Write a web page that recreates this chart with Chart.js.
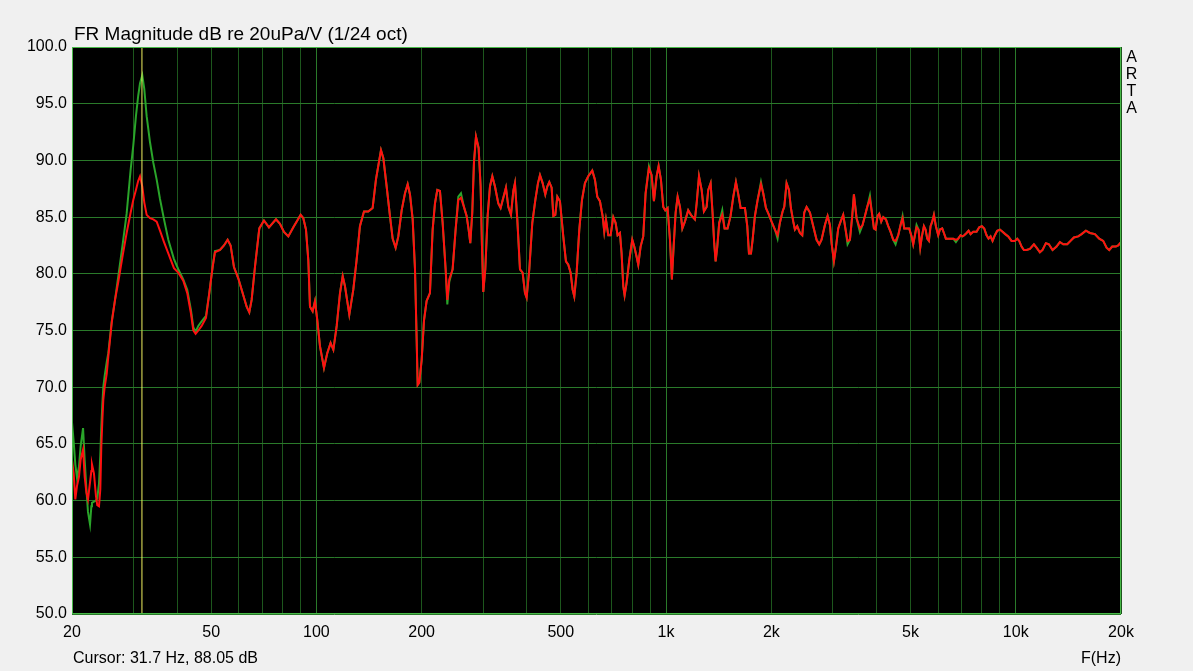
<!DOCTYPE html>
<html>
<head>
<meta charset="utf-8">
<title>FR Magnitude</title>
<script src="https://cdn.jsdelivr.net/npm/chart.js@4.4.1/dist/chart.umd.min.js"></script>
<style>
  body { margin: 0; background: #f0f0f0; }
  #wrap { position: relative; width: 1193px; height: 671px; font-family: "Liberation Sans", Arial, sans-serif; color: #000; }
  #mycanvas { position: absolute; left: 0; top: 0; }
  .lbl { position: absolute; white-space: nowrap; font-size: 16px; line-height: 16px; }
</style>
</head>
<body>
<div id="wrap">
  <canvas id="mycanvas" width="1193" height="671"></canvas>
  <div class="lbl" style="left:74px; top:24px; font-size:19px; line-height:19px;">FR Magnitude dB re 20uPa/V (1/24 oct)</div>
  <div class="lbl" style="left:1125px; top:48px; width:13px; text-align:center; line-height:17px;">A<br>R<br>T<br>A</div>
  <div class="lbl" style="left:73px; top:650px;">Cursor: 31.7 Hz, 88.05 dB</div>
  <div class="lbl" style="left:1081px; top:650px;">F(Hz)</div>
</div>
<script>
// frequency points (Hz), shared by both curves
var freqHz = [
  20.00, 20.22, 20.44, 20.67, 20.94, 21.17, 21.51, 21.74, 21.99, 22.22,
  22.52, 22.72, 22.81, 23.11, 23.42, 23.62, 23.89, 24.10, 24.26, 24.42,
  24.58, 24.80, 25.14, 25.40, 25.98, 26.55, 27.13, 27.92, 28.66, 29.43,
  29.94, 30.47, 30.93, 31.30, 31.77, 32.19, 32.70, 33.43, 34.16, 34.93,
  35.70, 36.66, 37.71, 39.14, 40.27, 41.61, 42.72, 43.78, 44.46, 45.14,
  45.94, 46.96, 48.33, 49.39, 50.49, 51.27, 52.98, 54.40, 55.73, 56.84,
  58.10, 59.78, 61.52, 63.17, 64.28, 65.28, 66.72, 68.66, 70.80, 73.17,
  76.63, 78.67, 80.77, 83.12, 85.90, 88.19, 90.15, 91.74, 93.37, 94.81,
  95.86, 97.56, 99.07, 100.6, 102.4, 105.1, 107.4, 109.8, 111.8, 114.3,
  116.8, 118.9, 120.7, 124.2, 127.5, 130.3, 133.2, 136.8, 140.7, 144.8,
  148.0, 153.0, 155.4, 158.8, 162.3, 165.2, 168.5, 171.5, 175.3, 179.2,
  182.4, 185.2, 188.5, 191.4, 193.5, 194.8, 196.9, 200.0, 203.1, 206.6,
  211.2, 215.0, 218.3, 221.7, 225.6, 229.6, 234.2, 236.8, 239.9, 245.2,
  250.1, 254.6, 259.1, 264.2, 268.9, 272.5, 275.5, 279.1, 282.2, 286.0,
  291.0, 294.9, 297.5, 300.1, 304.1, 308.8, 313.6, 318.5, 324.1, 331.3,
  336.4, 342.4, 348.4, 353.8, 360.1, 365.7, 369.7, 375.4, 382.1, 388.8,
  394.9, 399.2, 406.3, 414.4, 422.7, 430.2, 435.9, 443.6, 451.4, 457.4,
  463.5, 470.7, 475.9, 482.2, 488.6, 497.2, 508.2, 517.2, 525.2, 533.4,
  540.4, 546.4, 554.9, 564.7, 574.7, 586.1, 599.1, 615.1, 626.0, 635.7,
  646.9, 658.4, 665.6, 673.0, 683.4, 694.0, 706.3, 717.2, 726.7, 738.0,
  746.1, 754.4, 761.0, 771.1, 784.8, 800.4, 811.0, 823.6, 832.7, 845.6,
  860.5, 873.9, 893.3, 909.1, 923.2, 939.5, 952.0, 966.7, 981.7, 994.7,
  1010, 1026, 1039, 1051, 1065, 1079, 1096, 1113, 1132, 1157,
  1178, 1209, 1223, 1242, 1264, 1283, 1306, 1320, 1341, 1358,
  1373, 1386, 1401, 1419, 1448, 1470, 1499, 1529, 1557, 1584,
  1609, 1634, 1681, 1707, 1726, 1749, 1768, 1795, 1827, 1868,
  1896, 1930, 1969, 2003, 2048, 2084, 2116, 2154, 2178, 2211,
  2246, 2275, 2311, 2336, 2372, 2414, 2452, 2484, 2523, 2579,
  2636, 2694, 2742, 2784, 2846, 2897, 2942, 2974, 3020, 3060,
  3107, 3156, 3211, 3261, 3304, 3356, 3407, 3445, 3506, 3584,
  3647, 3704, 3761, 3828, 3878, 3930, 3973, 4026, 4070, 4124,
  4179, 4253, 4319, 4386, 4463, 4532, 4613, 4684, 4746, 4798,
  4873, 4959, 5036, 5091, 5148, 5204, 5273, 5332, 5390, 5462,
  5522, 5583, 5645, 5707, 5770, 5834, 5911, 6003, 6069, 6163,
  6231, 6313, 6411, 6510, 6626, 6743, 6847, 6953, 7046, 7123,
  7234, 7330, 7427, 7558, 7726, 7863, 8002, 8126, 8252, 8361,
  8472, 8584, 8717, 8852, 9009, 9169, 9331, 9517, 9728, 9944,
  10098, 10232, 10390, 10551, 10738, 10977, 11270, 11469, 11724, 11931,
  12196, 12439, 12743, 13083, 13374, 13671, 14036, 14347, 14665, 15090,
  15425, 15871, 16295, 16840, 17328, 17790, 18185, 18507, 18876, 19337,
  19637, 20000
];

// red curve, dB
var redDb = [
  63.6, 62.4, 60.1, 61.3, 62.1, 63.6, 64.5, 62.1, 60.7, 60.1,
  61.6, 62.6, 63.2, 62.4, 60.4, 59.6, 59.5, 61.0, 64.8, 67.0,
  68.9, 70.0, 71.2, 72.7, 75.7, 77.7, 79.3, 81.6, 83.6, 85.4,
  86.5, 87.4, 88.2, 88.6, 87.7, 86.3, 85.2, 84.9, 84.8, 84.6,
  83.8, 82.8, 81.8, 80.5, 80.1, 79.4, 78.3, 76.5, 75.0, 74.7,
  75.0, 75.4, 76.1, 78.3, 80.6, 81.9, 82.1, 82.5, 83.0, 82.5,
  80.6, 79.6, 78.3, 77.1, 76.6, 77.7, 80.6, 84.0, 84.7, 84.1,
  84.8, 84.4, 83.7, 83.3, 84.1, 84.7, 85.2, 84.9, 83.9, 81.2,
  77.1, 76.7, 77.6, 75.9, 73.6, 71.7, 73.0, 73.9, 73.3, 75.4,
  78.3, 79.8, 78.9, 76.4, 78.6, 81.2, 84.2, 85.5, 85.5, 85.8,
  88.3, 90.9, 90.2, 87.7, 85.1, 83.1, 82.3, 83.3, 85.6, 87.1,
  87.9, 87.0, 84.8, 80.4, 74.2, 70.2, 70.4, 72.4, 75.9, 77.6,
  78.3, 83.9, 86.2, 87.4, 87.3, 84.5, 80.4, 77.7, 79.5, 80.4,
  83.9, 86.5, 86.7, 85.9, 85.1, 83.9, 82.7, 85.4, 89.8, 92.1,
  91.1, 87.7, 82.4, 78.4, 80.4, 85.1, 87.7, 88.6, 87.7, 86.2,
  85.8, 86.7, 87.6, 85.9, 85.2, 87.3, 88.0, 84.8, 80.4, 80.1,
  78.3, 77.9, 80.4, 84.5, 86.5, 88.0, 88.7, 88.0, 87.0, 87.7,
  88.1, 87.6, 85.1, 85.2, 86.8, 86.4, 83.3, 81.1, 80.8, 80.1,
  78.6, 78.0, 80.1, 83.9, 86.5, 88.0, 88.6, 89.1, 88.3, 86.8,
  86.4, 85.1, 83.7, 84.8, 83.4, 83.4, 85.0, 84.5, 83.4, 83.6,
  81.8, 78.9, 78.1, 79.2, 81.2, 83.0, 82.4, 81.5, 80.8, 82.4,
  83.3, 87.1, 89.3, 88.7, 86.4, 88.6, 89.5, 88.3, 85.9, 85.6,
  85.8, 83.0, 79.5, 82.4, 85.4, 86.8, 85.9, 84.0, 84.6, 85.6,
  85.2, 84.8, 86.2, 88.6, 87.4, 85.5, 85.9, 87.4, 88.0, 85.4,
  82.7, 81.1, 82.4, 84.5, 85.2, 84.0, 84.0, 85.1, 86.8, 88.1,
  87.0, 85.8, 85.8, 84.2, 81.8, 81.8, 83.0, 85.1, 86.5, 87.9,
  87.1, 85.8, 85.2, 84.6, 83.9, 83.4, 84.5, 85.5, 85.9, 88.0,
  87.4, 85.8, 84.6, 83.9, 84.2, 83.6, 83.4, 85.4, 85.9, 85.4,
  84.2, 83.0, 82.6, 83.0, 84.3, 85.1, 84.3, 82.7, 81.1, 82.3,
  84.0, 84.6, 85.2, 83.9, 82.9, 83.0, 85.1, 87.0, 84.9, 84.0,
  84.3, 85.1, 85.9, 86.6, 85.4, 84.0, 83.9, 85.1, 85.3, 84.6,
  85.0, 84.8, 84.2, 83.7, 83.0, 82.9, 83.4, 84.3, 84.9, 84.0,
  84.0, 84.0, 83.3, 82.6, 83.4, 84.1, 83.9, 82.3, 83.3, 84.2,
  83.9, 83.1, 82.9, 84.2, 84.6, 85.2, 84.2, 83.4, 83.9, 84.0,
  83.6, 83.1, 83.1, 83.1, 83.1, 83.0, 83.1, 83.4, 83.3, 83.4,
  83.6, 83.8, 83.5, 83.7, 83.7, 84.1, 84.2, 84.0, 83.4, 83.1,
  83.3, 82.9, 83.4, 83.8, 83.9, 83.7, 83.5, 83.3, 82.9, 82.9,
  83.1, 82.9, 82.4, 82.1, 82.1, 82.2, 82.6, 82.3, 81.9, 82.1,
  82.7, 82.6, 82.1, 82.4, 82.8, 82.6, 82.6, 82.9, 83.2, 83.3,
  83.5, 83.8, 83.6, 83.5, 83.1, 82.9, 82.3, 82.1, 82.4, 82.4,
  82.5, 82.8
];

// green curve, dB (mostly hidden under the red one above 45 Hz)
var greenDb = [
  66.9, 65.2, 63.2, 62.0, 63.0, 64.8, 66.4, 63.6, 61.0, 59.0,
  57.9, 59.5, 59.8, 59.9, 60.0, 60.2, 61.5, 64.0, 66.5, 68.5,
  70.0, 71.0, 72.2, 73.0, 75.8, 77.7, 79.8, 82.6, 85.3, 89.2,
  91.3, 93.9, 95.7, 96.8, 97.5, 96.3, 93.9, 91.6, 89.8, 88.3,
  86.6, 84.8, 83.0, 81.3, 80.4, 79.5, 78.6, 76.8, 75.3, 74.9,
  75.4, 75.8, 76.3, 78.3, 80.6, 82.0, 82.1, 82.5, 83.0, 82.5,
  80.6, 79.6, 78.3, 77.1, 76.6, 77.7, 80.6, 84.0, 84.7, 84.1,
  84.8, 84.4, 83.7, 83.3, 84.1, 84.7, 85.2, 84.9, 83.9, 81.2,
  77.1, 76.7, 77.6, 75.9, 73.6, 71.7, 73.0, 73.9, 73.3, 75.4,
  78.3, 79.8, 78.9, 76.4, 78.6, 81.2, 84.2, 85.5, 85.5, 85.8,
  88.3, 90.9, 90.2, 87.7, 85.1, 83.1, 82.3, 83.3, 85.6, 87.1,
  87.9, 87.0, 84.8, 80.4, 74.2, 70.2, 70.4, 72.4, 75.9, 77.6,
  78.3, 83.9, 86.2, 87.4, 87.3, 84.5, 80.4, 77.3, 79.3, 80.4,
  83.9, 86.8, 87.1, 85.9, 85.1, 83.9, 82.7, 85.4, 89.8, 92.1,
  91.1, 87.7, 82.4, 78.4, 80.4, 85.1, 87.7, 88.6, 87.7, 86.2,
  85.8, 86.7, 87.6, 85.9, 85.2, 87.3, 88.0, 84.8, 80.4, 80.1,
  78.3, 77.9, 80.4, 84.5, 86.5, 88.0, 88.7, 88.0, 87.0, 87.7,
  88.1, 87.6, 85.1, 85.2, 86.8, 86.4, 83.3, 81.1, 80.8, 80.1,
  78.6, 78.0, 80.1, 83.9, 86.5, 88.0, 88.6, 89.1, 88.3, 86.8,
  86.4, 85.1, 83.7, 84.8, 83.4, 83.4, 85.0, 84.5, 83.4, 83.6,
  81.8, 78.9, 78.1, 79.2, 81.2, 83.0, 82.4, 81.5, 80.8, 82.4,
  83.3, 87.1, 89.5, 88.7, 86.4, 88.6, 89.5, 88.3, 85.9, 85.6,
  85.8, 83.0, 79.5, 82.4, 85.4, 86.8, 85.9, 84.0, 84.6, 85.6,
  85.2, 84.8, 86.2, 88.6, 87.4, 85.5, 85.9, 87.4, 88.0, 85.4,
  82.7, 81.1, 82.4, 84.5, 85.6, 84.0, 84.0, 85.1, 86.8, 88.1,
  87.0, 85.8, 85.8, 84.2, 81.8, 81.8, 83.0, 85.1, 86.5, 88.1,
  87.1, 85.8, 85.2, 84.6, 83.9, 83.1, 84.5, 85.5, 85.9, 88.0,
  87.4, 85.8, 84.6, 83.9, 84.2, 83.6, 83.4, 85.4, 85.9, 85.4,
  84.2, 83.0, 82.6, 83.0, 84.3, 85.1, 84.3, 82.7, 81.1, 82.3,
  84.0, 84.6, 85.2, 83.9, 82.6, 83.0, 85.1, 87.0, 84.9, 83.7,
  84.3, 85.1, 85.9, 86.9, 85.4, 84.0, 83.9, 85.1, 85.3, 84.6,
  85.0, 84.8, 84.2, 83.7, 83.0, 82.6, 83.4, 84.3, 85.1, 84.0,
  84.0, 84.0, 83.3, 82.6, 83.4, 84.3, 83.9, 82.3, 83.3, 84.2,
  83.9, 83.1, 82.9, 84.2, 84.6, 85.2, 84.2, 83.4, 83.9, 84.0,
  83.6, 83.1, 83.1, 83.1, 83.1, 82.8, 83.1, 83.4, 83.3, 83.4,
  83.6, 83.8, 83.5, 83.7, 83.7, 84.1, 84.2, 84.0, 83.4, 83.1,
  83.3, 82.9, 83.4, 83.8, 83.9, 83.7, 83.5, 83.3, 82.9, 82.9,
  83.1, 82.9, 82.4, 82.1, 82.1, 82.2, 82.6, 82.3, 81.9, 82.1,
  82.7, 82.6, 82.1, 82.4, 82.8, 82.6, 82.6, 82.9, 83.2, 83.3,
  83.5, 83.8, 83.6, 83.5, 83.1, 82.9, 82.3, 82.1, 82.4, 82.4,
  82.5, 82.8
];

var cursorHz = 31.7;

// axis grid and labels
var gridHz = [20, 30, 40, 50, 60, 70, 80, 90,
              100, 200, 300, 400, 500, 600, 700, 800, 900,
              1000, 2000, 3000, 4000, 5000, 6000, 7000, 8000, 9000,
              10000, 20000];
var majorHz = [100, 1000, 10000];
var labelHz = [20, 50, 100, 200, 500, 1000, 2000, 5000, 10000, 20000];
var labelText = ['20', '50', '100', '200', '500', '1k', '2k', '5k', '10k', '20k'];
var dbTicks = [50, 55, 60, 65, 70, 75, 80, 85, 90, 95, 100];

var frameColor = '#48b848';
var majorGrid = '#2a7a2a';
var minorGrid = '#1d571d';
var fontFam = '"Liberation Sans", Arial, sans-serif';

function curve(dbs) {
  return freqHz.map(function (f, i) { return { x: f, y: dbs[i] }; });
}

var plotBox = {
  id: 'plotBox',
  beforeDraw: function (chart) {
    var a = chart.chartArea, c = chart.ctx;
    c.save();
    c.fillStyle = '#000';
    c.fillRect(a.left, a.top, a.right - a.left, a.bottom - a.top);
    c.restore();
  },
  afterDraw: function (chart) {
    var a = chart.chartArea, c = chart.ctx;
    c.save();
    c.strokeStyle = frameColor;
    c.lineWidth = 1;
    c.strokeRect(a.left + 0.5, a.top + 0.5, a.right - a.left - 1, a.bottom - a.top - 1);
    c.restore();
  }
};

var ctx = document.getElementById('mycanvas');
var chart = new Chart(ctx, {
  type: 'line',
  data: {
    datasets: [
      { label: 'cursor', data: [{ x: cursorHz, y: 50 }, { x: cursorHz, y: 100 }],
        borderColor: '#f2f260', borderWidth: 1, pointRadius: 0, order: 0 },
      { label: 'red', data: curve(redDb), borderColor: '#ff1010', borderWidth: 2,
        pointRadius: 0, order: 1 },
      { label: 'green', data: curve(greenDb), borderColor: '#2aa52a', borderWidth: 2,
        pointRadius: 0, order: 2 }
    ]
  },
  options: {
    responsive: false,
    animation: false,
    layout: { padding: { top: 47, right: 72, bottom: 0, left: 0 } },
    plugins: { legend: { display: false }, tooltip: { enabled: false } },
    scales: {
      x: {
        type: 'logarithmic', min: 20, max: 20000,
        afterBuildTicks: function (s) { s.ticks = gridHz.map(function (v) { return { value: v }; }); },
        afterFit: function (s) { s.height = 57; },
        border: { display: false },
        grid: {
          drawTicks: false,
          color: function (c) { return majorHz.indexOf(c.tick.value) >= 0 ? majorGrid : minorGrid; }
        },
        ticks: {
          autoSkip: false, maxRotation: 0, padding: 9, color: '#000',
          font: { family: fontFam, size: 16 },
          callback: function (v) {
            var i = labelHz.indexOf(v);
            return i >= 0 ? labelText[i] : '';
          }
        }
      },
      y: {
        min: 50, max: 100,
        afterBuildTicks: function (s) { s.ticks = dbTicks.map(function (v) { return { value: v }; }); },
        afterFit: function (s) { s.width = 72; },
        border: { display: false },
        grid: { drawTicks: false, color: majorGrid },
        ticks: {
          padding: 5, color: '#000',
          font: { family: fontFam, size: 16 },
          callback: function (v) { return Number(v).toFixed(1); }
        }
      }
    }
  },
  plugins: [plotBox]
});
</script>
</body>
</html>
